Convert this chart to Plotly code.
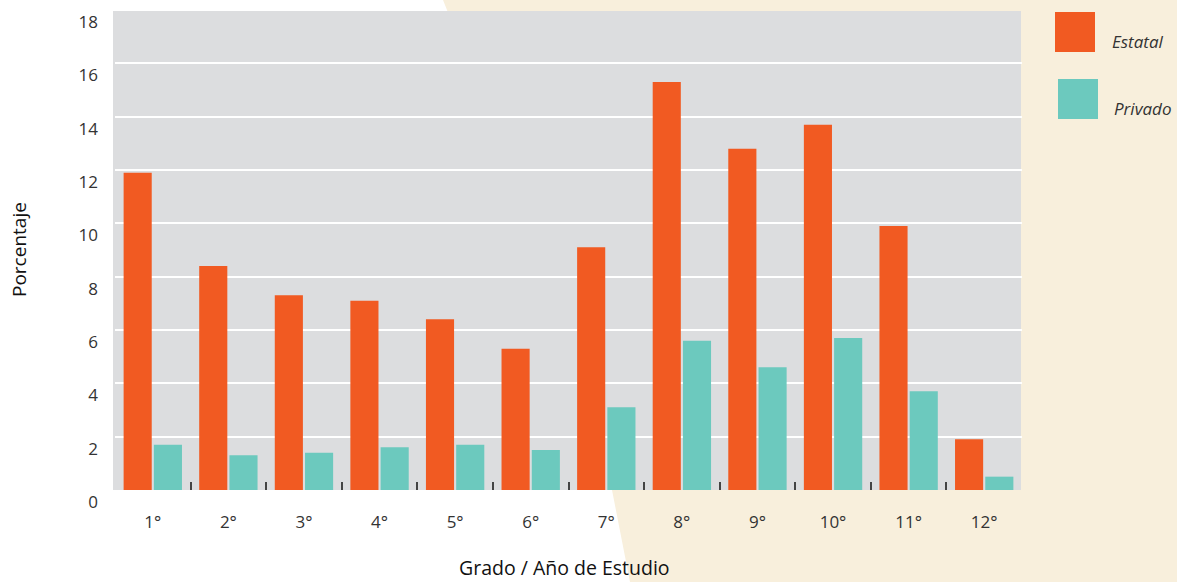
import plotly.graph_objects as go

grados = ["1°", "2°", "3°", "4°", "5°", "6°", "7°", "8°", "9°", "10°", "11°", "12°"]
estatal = [11.9, 8.4, 7.3, 7.1, 6.4, 5.3, 9.1, 15.3, 12.8, 13.7, 9.9, 1.9]
privado = [1.7, 1.3, 1.4, 1.6, 1.7, 1.5, 3.1, 5.6, 4.6, 5.7, 3.7, 0.5]
y_ticks = [0, 2, 4, 6, 8, 10, 12, 14, 16, 18]

W, H = 1177, 582
L, R, T, B = 115, 155, 10, 92
PW, PH = W - L - R, H - T - B

def px(x):
    return (x - L) / PW

def py(y):
    return (H - B - y) / PH

ORANGE = "#F15A22"
TEAL = "#6CC9BE"
GRAY = "#DCDDDF"
BEIGE = "#F8EFDC"
TXT = "#333333"
FONT = "Open Sans"

fig = go.Figure()
fig.add_trace(go.Bar(x=grados, y=estatal, name="Estatal", marker_color=ORANGE, marker_line_width=0))
fig.add_trace(go.Bar(x=grados, y=privado, name="Privado", marker_color=TEAL, marker_line_width=0))

shapes = [
    dict(type="path", xref="paper", yref="paper", layer="below", line_width=0, fillcolor=BEIGE,
         path=f"M {px(443)} {py(0)} L {px(1177)} {py(0)} L {px(1177)} {py(582)} L {px(630)} {py(582)} "
              f"L {px(612)} {py(490)} L {px(447)} {py(10)} Z"),
    dict(type="rect", xref="paper", yref="paper", layer="below", line_width=0, fillcolor=GRAY,
         x0=px(113), x1=px(1021), y0=py(490), y1=py(11)),
    dict(type="rect", xref="paper", yref="paper", line_width=0, fillcolor=ORANGE,
         x0=px(1055), x1=px(1095), y0=py(52), y1=py(12)),
    dict(type="rect", xref="paper", yref="paper", line_width=0, fillcolor=TEAL,
         x0=px(1058), x1=px(1098), y0=py(119), y1=py(79)),
]

annotations = [
    dict(text="<i>Estatal</i>", xref="paper", yref="paper", x=px(1110), y=py(42), xanchor="left",
         yanchor="middle", showarrow=False, font=dict(size=17, color=TXT, family=FONT)),
    dict(text="<i>Privado</i>", xref="paper", yref="paper", x=px(1112), y=py(108), xanchor="left",
         yanchor="middle", showarrow=False, font=dict(size=17, color=TXT, family=FONT)),
    dict(text="Grado / Año de Estudio", xref="paper", yref="paper", x=px(564), y=py(567),
         xanchor="center", yanchor="middle", showarrow=False, font=dict(size=19.5, color="#111", family=FONT)),
    dict(text="Porcentaje", xref="paper", yref="paper", x=px(19), y=py(250), textangle=-90,
         xanchor="center", yanchor="middle", showarrow=False, font=dict(size=19, color="#111", family=FONT)),
]

fig.update_layout(
    width=W, height=H,
    margin=dict(l=L, r=R, t=T, b=B, pad=0),
    paper_bgcolor="white",
    plot_bgcolor="rgba(0,0,0,0)",
    barmode="group",
    bargap=0.2,
    bargroupgap=0.07,
    showlegend=False,
    shapes=shapes,
    annotations=annotations,
    font=dict(family=FONT, color=TXT),
)
fig.update_xaxes(
    type="category", tickson="boundaries", ticks="inside", ticklen=8, tickwidth=1.5, tickcolor="#444",
    showgrid=False, showline=False, zeroline=False,
    tickfont=dict(size=17, color=TXT, family=FONT), ticklabelstandoff=20,
)
fig.update_yaxes(
    range=[0, 18], tickvals=y_ticks, showgrid=True, gridcolor="white", gridwidth=2,
    zeroline=False, showline=False, ticks="",
    ticklabelposition="outside bottom", ticklabelstandoff=16,
    tickfont=dict(size=17, color=TXT, family=FONT),
)

fig.write_html("out.html", config={"displayModeBar": False},
               post_script="document.body.style.margin='0px';document.body.style.overflow='hidden';")
